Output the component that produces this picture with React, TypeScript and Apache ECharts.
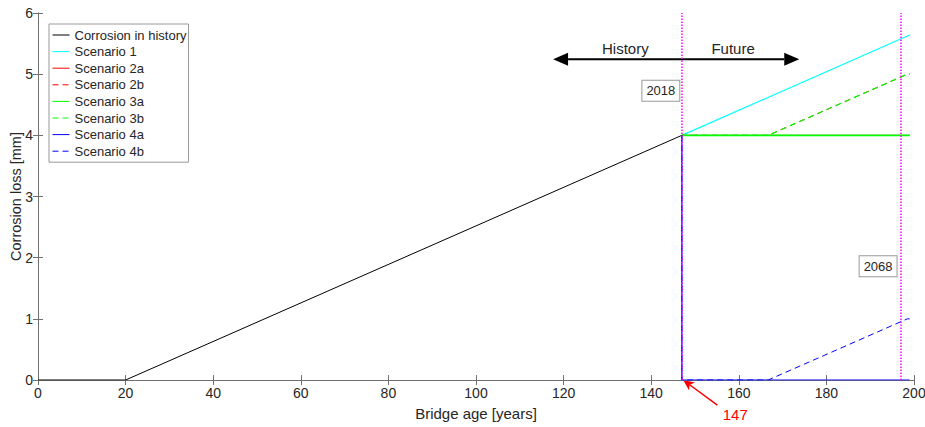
import React, { useEffect, useRef } from "react";
import * as echarts from "echarts";

// Bridge age [years] vs corrosion loss [mm]
const historyData: number[][] = [[0, 0], [20, 0], [147, 4]];
const scenario1: number[][] = [[147, 4], [199, 5.64]];
const scenario2a: number[][] = [[147, 4], [199, 4]];
const scenario2b: number[][] = [[147, 4], [166.7, 4], [198.5, 5], [199, 5]];
const scenario3a: number[][] = [[147, 4], [199, 4]];
const scenario3b: number[][] = [[147, 4], [166.7, 4], [198.5, 5], [199, 5]];
const scenario4a: number[][] = [[147, 4], [147, 0], [199, 0]];
const scenario4b: number[][] = [[147, 4], [147, 0], [166.7, 0], [198.5, 1], [199, 1]];

const seriesNames = [
  "Corrosion in history",
  "Scenario 1",
  "Scenario 2a",
  "Scenario 2b",
  "Scenario 3a",
  "Scenario 3b",
  "Scenario 4a",
  "Scenario 4b",
];
const markerYears = [147, 197];
const markerLabels = ["2018", "2068"];
const markerLabelPos: number[][] = [[142.2, 4.73], [191.8, 1.86]];
const arrowFromTo: number[][] = [[117.6, 5.245], [173.8, 5.245]];
const historyLabelPos = [134.1, 5.42];
const futureLabelPos = [158.7, 5.42];
const startLabel = "147";
const startLabelPos = [159.2, -0.57];
const startArrow: number[][] = [[155.1, -0.41], [147.3, 0]];

const FONT = "'Liberation Sans', Arial, Helvetica, sans-serif";
const AXIS_COLOR = "#707070";
const TEXT_COLOR = "#262626";

export default function App() {
  const ref = useRef<HTMLDivElement>(null);
  useEffect(() => {
    if (!ref.current) return;
    const chart = echarts.init(ref.current, undefined, { renderer: "svg" });
    const solid = (color: string, width = 1) => ({ color, width, type: "solid" as const });
    const dashed = (color: string, width = 1) => ({ color, width, type: [6, 4] });
    const mk = (name: string, data: number[][], lineStyle: any, z: number) => ({
      name,
      type: "line",
      data,
      symbol: "none",
      lineStyle,
      itemStyle: { color: lineStyle.color },
      z,
      silent: true,
    });
    const series: any[] = [
      mk(seriesNames[0], historyData, solid("#000000"), 2),
      mk(seriesNames[1], scenario1, solid("#00ffff", 1.2), 2),
      mk(seriesNames[2], scenario2a, solid("#ff0000"), 2),
      mk(seriesNames[3], scenario2b, dashed("#ff0000"), 2),
      mk(seriesNames[4], scenario3a, solid("#00ff00", 1.6), 3),
      mk(seriesNames[5], scenario3b, dashed("#00ff00", 1.2), 3),
      mk(seriesNames[6], scenario4a, solid("#0000ff", 1.2), 4),
      mk(seriesNames[7], scenario4b, dashed("#0000ff"), 4),
    ];
    series[0].markLine = {
      silent: true,
      symbol: "none",
      label: { show: false },
      lineStyle: { color: "#ff00ff", width: 1.5, type: [1.5, 1.5] },
      data: markerYears.map((x) => ({ xAxis: x })),
    };
    const axisCommon = {
      axisLine: { show: true, lineStyle: { color: AXIS_COLOR, width: 1 } },
      axisTick: { show: true, inside: true, length: 5, lineStyle: { color: AXIS_COLOR } },
      splitLine: { show: false },
    };
    chart.setOption({
      animation: false,
      textStyle: { fontFamily: FONT },
      grid: { left: 38, right: 11, top: 13, bottom: 47, containLabel: false, outerBoundsMode: "none" },
      legend: {
        data: seriesNames,
        orient: "vertical",
        left: 49,
        top: 24,
        padding: [4, 2, 4, 3],
        itemWidth: 17,
        itemHeight: 14,
        itemGap: 2.6,
        borderColor: "#999",
        borderWidth: 1,
        backgroundColor: "#fff",
        itemStyle: { opacity: 0 },
        lineStyle: { width: 1 },
        textStyle: { fontSize: 13, color: TEXT_COLOR, fontFamily: FONT, lineHeight: 14 },
        selectedMode: false,
      },
      xAxis: [
        {
          type: "value",
          min: 0,
          max: 200,
          interval: 20,
          name: "Bridge age [years]",
          nameLocation: "middle",
          nameGap: 26,
          nameMoveOverlap: false,
          nameTextStyle: { fontSize: 15, color: TEXT_COLOR, fontFamily: FONT },
          axisLabel: { fontSize: 14, color: TEXT_COLOR, margin: 6, fontFamily: FONT },
          ...axisCommon,
        },
        {
          type: "value",
          position: "top",
          min: 0,
          max: 200,
          interval: 20,
          axisLabel: { show: false },
          ...axisCommon,
        },
      ],
      yAxis: [
        {
          type: "value",
          min: 0,
          max: 6,
          interval: 1,
          name: "Corrosion loss [mm]",
          nameLocation: "middle",
          nameGap: 15,
          nameMoveOverlap: false,
          nameTextStyle: { fontSize: 14.5, color: TEXT_COLOR, fontFamily: FONT },
          axisLabel: { fontSize: 14, color: TEXT_COLOR, margin: 5, fontFamily: FONT },
          ...axisCommon,
        },
        {
          type: "value",
          position: "right",
          min: 0,
          max: 6,
          interval: 1,
          axisLabel: { show: false },
          ...axisCommon,
        },
      ],
      series,
    });

    const px = (p: number[]) => chart.convertToPixel({ gridIndex: 0 }, p) as number[];
    const graphics: any[] = [];
    // double arrow
    const a0 = px(arrowFromTo[0]);
    const a1 = px(arrowFromTo[1]);
    const headL = 15;
    const headW = 6.5;
    graphics.push({
      type: "line",
      shape: { x1: a0[0] + headL, y1: a0[1], x2: a1[0] - headL, y2: a1[1] },
      style: { stroke: "#000", lineWidth: 2 },
    });
    graphics.push({
      type: "polygon",
      shape: { points: [[a0[0], a0[1]], [a0[0] + headL, a0[1] - headW], [a0[0] + headL, a0[1] + headW]] },
      style: { fill: "#000" },
    });
    graphics.push({
      type: "polygon",
      shape: { points: [[a1[0], a1[1]], [a1[0] - headL, a1[1] - headW], [a1[0] - headL, a1[1] + headW]] },
      style: { fill: "#000" },
    });
    const hp = px(historyLabelPos);
    const fp = px(futureLabelPos);
    [["History", hp], ["Future", fp]].forEach(([t, p]: any) => {
      graphics.push({
        type: "text",
        x: p[0],
        y: p[1],
        style: {
          text: t,
          fontSize: 15,
          fontFamily: FONT,
          fill: TEXT_COLOR,
          align: "center",
          verticalAlign: "middle",
        },
      });
    });
    markerLabels.forEach((t, i) => {
      const p = px(markerLabelPos[i]);
      graphics.push({
        type: "text",
        x: p[0],
        y: p[1],
        style: {
          text: t,
          fontSize: 13,
          fontFamily: FONT,
          fill: TEXT_COLOR,
          align: "center",
          verticalAlign: "middle",
          backgroundColor: "#fff",
          borderColor: "#999",
          borderWidth: 1,
          padding: [4, 4, 3, 4],
        },
        z: 10,
      });
    });
    const sp = px(startLabelPos);
    graphics.push({
      type: "text",
      x: sp[0],
      y: sp[1],
      style: {
        text: startLabel,
        fontSize: 15,
        fontFamily: FONT,
        fill: "#ff0000",
        align: "center",
        verticalAlign: "middle",
      },
    });
    const r0 = px(startArrow[0]);
    const r1 = px(startArrow[1]);
    const dx = r1[0] - r0[0];
    const dy = r1[1] - r0[1];
    const len = Math.sqrt(dx * dx + dy * dy);
    const ux = dx / len;
    const uy = dy / len;
    const hl = 11;
    const hw = 5;
    const bx = r1[0] - ux * hl;
    const by = r1[1] - uy * hl;
    graphics.push({
      type: "line",
      shape: { x1: r0[0], y1: r0[1], x2: bx + ux * 3, y2: by + uy * 3 },
      style: { stroke: "#ff0000", lineWidth: 1.5 },
    });
    graphics.push({
      type: "polygon",
      shape: {
        points: [
          [r1[0], r1[1]],
          [bx - uy * hw, by + ux * hw],
          [bx + ux * 3, by + uy * 3],
          [bx + uy * hw, by - ux * hw],
        ],
      },
      style: { fill: "#ff0000" },
    });
    chart.setOption({ graphic: graphics });

    return () => chart.dispose();
  }, []);
  return (
    <div
      ref={ref}
      style={{ position: "absolute", left: 0, top: 0, width: 925, height: 427, background: "#fff" }}
    />
  );
}
